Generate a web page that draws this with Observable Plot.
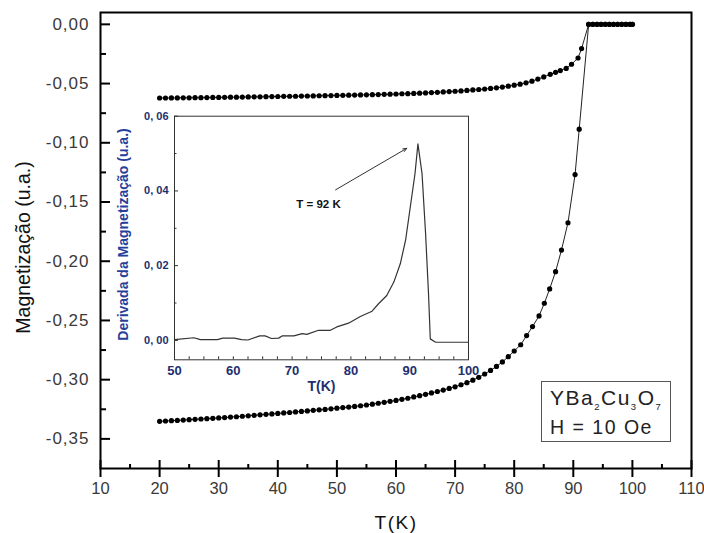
<!DOCTYPE html>
<html><head><meta charset="utf-8">
<script src="https://cdn.jsdelivr.net/npm/d3@7"></script>
<script src="https://cdn.jsdelivr.net/npm/@observablehq/plot@0.6"></script>
<style>
body{margin:0;background:#fff;}
#wrap{position:relative;width:704px;height:533px;font-family:Arial,"Liberation Sans",sans-serif;overflow:hidden;}
#main svg, #inset svg{display:block;}
#main g[aria-label="y-axis tick label"] text{letter-spacing:1px;}
#inset{position:absolute;left:100px;top:100px;}
#legend{position:absolute;left:541px;top:381px;width:130px;height:61px;border:1px solid #555;box-sizing:border-box;background:#fff;color:#222;}
#legend .l1{position:absolute;left:8px;top:5px;font-size:21px;line-height:21px;letter-spacing:1.5px;white-space:nowrap;}
#legend .l2{position:absolute;left:8px;top:35.5px;font-size:19.5px;line-height:19.5px;letter-spacing:1.5px;white-space:nowrap;}
#legend sub{font-size:9.5px;vertical-align:-5px;line-height:0;}
</style></head>
<body>
<div id="wrap">
  <div id="main"></div>
  <div id="inset"></div>
  <div id="legend"><div class="l1">YBa<sub>2</sub>Cu<sub>3</sub>O<sub>7</sub></div><div class="l2">H = 10 Oe</div></div>
</div>
<script>
// ---- Main curves: zero-field-cooled (lower) and field-cooled (upper) ----
const zfcT = [20,21,22,23,24,25,26,27,28,29,30,31,32,33,34,35,36,37,38,39,40,41,42,43,44,45,46,47,48,49,50,51,52,53,54,55,56,57,58,59,60,61,62,63,64,65,66,67,68,69,70,71,72,73,74,75,76,77,78,79,80,81.1,82.1,83.1,84.2,85.1,86.0,87.0,88.0,89.1,90.3,91.0,92.6,93.3,94.0,94.7,95.4,96.1,96.8,97.5,98.2,98.9,99.6,100.0];
const zfcM = [-0.3352,-0.3349,-0.3346,-0.3344,-0.3341,-0.3338,-0.3335,-0.3332,-0.3329,-0.3326,-0.3323,-0.3320,-0.3316,-0.3313,-0.3309,-0.3305,-0.3301,-0.3297,-0.3293,-0.3289,-0.3285,-0.3281,-0.3277,-0.3272,-0.3268,-0.3264,-0.3259,-0.3255,-0.3251,-0.3246,-0.3241,-0.3236,-0.3231,-0.3226,-0.3220,-0.3214,-0.3207,-0.3199,-0.3191,-0.3183,-0.3175,-0.3166,-0.3157,-0.3146,-0.3135,-0.3124,-0.3112,-0.3100,-0.3088,-0.3074,-0.3060,-0.3043,-0.3025,-0.3004,-0.2980,-0.2952,-0.2922,-0.2888,-0.2850,-0.2806,-0.2758,-0.2705,-0.2628,-0.2552,-0.2462,-0.2355,-0.2234,-0.2088,-0.1906,-0.1675,-0.1268,-0.0885,0,0,0,0,0,0,0,0,0,0,0,0];
const fcT = [20,21,22,23,24,25,26,27,28,29,30,31,32,33,34,35,36,37,38,39,40,41,42,43,44,45,46,47,48,49,50,51,52,53,54,55,56,57,58,59,60,61,62,63,64,65,66,67,68,69,70,71,72,73,74,75,76,77,78,79,80,81,82,83,84,85,86.1,87.0,87.8,88.8,89.7,90.8,91.4,92.6,93.3,94.0,94.7,95.4,96.1,96.8,97.5,98.2,98.9,99.6,100.0];
const fcM = [-0.0622,-0.0622,-0.0621,-0.0621,-0.0620,-0.0620,-0.0619,-0.0619,-0.0618,-0.0617,-0.0617,-0.0616,-0.0615,-0.0615,-0.0614,-0.0613,-0.0612,-0.0612,-0.0611,-0.0610,-0.0609,-0.0608,-0.0607,-0.0607,-0.0606,-0.0605,-0.0604,-0.0603,-0.0602,-0.0601,-0.0600,-0.0599,-0.0598,-0.0597,-0.0596,-0.0595,-0.0594,-0.0593,-0.0591,-0.0590,-0.0588,-0.0586,-0.0585,-0.0583,-0.0581,-0.0579,-0.0576,-0.0574,-0.0571,-0.0568,-0.0565,-0.0562,-0.0558,-0.0554,-0.0550,-0.0546,-0.0541,-0.0536,-0.0530,-0.0522,-0.0514,-0.0505,-0.0494,-0.0480,-0.0462,-0.0444,-0.0422,-0.0405,-0.0390,-0.0372,-0.0337,-0.0284,-0.0205,0,0,0,0,0,0,0,0,0,0,0,0];

// ---- Inset: derivative of magnetization ----
const dT = [50,53.3,54.4,57.3,58.2,60.2,61.4,62.5,64.5,65.4,66.5,67.7,68.3,70.3,71.7,72.5,74.5,76.5,77.6,79.6,81.6,83.6,84.7,86.1,87.3,88.4,89.3,90.1,90.9,91.4,92.1,92.7,93.2,93.5,94.4,100];
const dM = [0.0002,0.0007,0.0002,0.0002,0.0006,0.0006,0.0002,0.0001,0.0012,0.0012,0.0005,0.0006,0.0012,0.0012,0.0018,0.0016,0.0027,0.0027,0.0036,0.0046,0.0064,0.0078,0.0098,0.0120,0.0156,0.0205,0.0268,0.0357,0.0446,0.0526,0.0446,0.0286,0.0125,0.0004,-0.0005,-0.0005];

// ---- Ticks and labels ----
const xMajor = [10,20,30,40,50,60,70,80,90,100,110];
const xMinor = [15,25,35,45,55,65,75,85,95,105];
const yMajor = [0,-0.05,-0.10,-0.15,-0.20,-0.25,-0.30,-0.35];
const yMinor = [-0.025,-0.075,-0.125,-0.175,-0.225,-0.275,-0.325];
const insetXLabels = [50,60,70,80,90,100];
const insetXTicks = [52.5,55,57.5,60,62.5,65,67.5,70,72.5,75,77.5,80,82.5,85,87.5,90,92.5,95,97.5];
const insetYMajor = [0,0.02,0.04,0.06];
const insetYMinor = [0.01,0.03,0.05];
const annotationText = ["T = 92 K"];
const annotationPos = [74.5, 0.0363];
const arrowFrom = [77.4, 0.0403];
const arrowTo = [89.5, 0.0514];

const mainTitleX = "T(K)";
const mainTitleY = "Magnetização (u.a.)";
const insetTitleX = "T(K)";
const insetTitleY = "Derivada da Magnetização (u.a.)";

const zfc = zfcT.map((t, i) => ({T: t, M: zfcM[i]}));
const fc = fcT.map((t, i) => ({T: t, M: fcM[i]}));
const deriv = dT.map((t, i) => ({T: t, D: dM[i]}));

const FONT = 'Arial, "Liberation Sans", sans-serif';
const W = 704, H = 533, mL = 100, mR = 13, mT = 12, mB = 65;
const innerW = W - mL - mR, innerH = H - mT - mB;
const fmtMain = d => d.toFixed(2).replace(".", ",");

const main = Plot.plot({
  width: W, height: H,
  marginLeft: mL, marginRight: mR, marginTop: mT, marginBottom: mB,
  style: {fontFamily: FONT, background: "#fff", overflow: "visible"},
  x: {domain: [10, 110]},
  y: {domain: [-0.375, 0.01]},
  marks: [
    Plot.ruleX(xMajor, {x: d => d, stroke: "black", strokeWidth: 2, insetTop: innerH - 8, insetBottom: -9}),
    Plot.ruleX(xMinor, {x: d => d, stroke: "black", strokeWidth: 2, insetTop: innerH - 4}),
    Plot.ruleY(yMajor, {y: d => d, stroke: "black", strokeWidth: 2, insetRight: innerW - 10}),
    Plot.ruleY(yMinor, {y: d => d, stroke: "black", strokeWidth: 2, insetRight: innerW - 6}),
    Plot.axisX({ticks: xMajor, tickSize: 0, tickPadding: 14, tickFormat: d => String(d), fontSize: 16.5, color: "#3a3a3a", label: null}),
    Plot.axisY({ticks: yMajor, tickSize: 0, tickPadding: 11, tickFormat: fmtMain, fontSize: 17, color: "#3a3a3a", label: null}),
    Plot.frame({stroke: "black", strokeWidth: 2}),
    Plot.line(zfc, {x: "T", y: "M", stroke: "#222", strokeWidth: 1}),
    Plot.line(fc, {x: "T", y: "M", stroke: "#222", strokeWidth: 1}),
    Plot.dot(zfc, {x: "T", y: "M", r: 2.6, fill: "black", stroke: null}),
    Plot.dot(fc, {x: "T", y: "M", r: 2.6, fill: "black", stroke: null}),
    Plot.text([mainTitleX], {text: d => d, frameAnchor: "bottom", dy: 54, textAnchor: "middle", lineAnchor: "middle", fontSize: 19, fill: "#111"}),
    Plot.text([mainTitleY], {text: d => d, frameAnchor: "left", dx: -77, dy: 7, rotate: -90, textAnchor: "middle", lineAnchor: "middle", fontSize: 19.5, fill: "#111"})
  ]
});
document.getElementById("main").appendChild(main);
main.querySelectorAll("text").forEach(t => { if (t.textContent === mainTitleX) t.style.letterSpacing = "1.5px"; });

// ---- Inset ----
const iW = 380, iH = 300, imL = 74, imR = 12, imT = 15.7, imB = 40.7;
const iInnerW = iW - imL - imR, iInnerH = iH - imT - imB;
const INK = "#1e2f6e";
const fmtInset = d => d.toFixed(2).replace(".", ", ");

const inset = Plot.plot({
  width: iW, height: iH,
  marginLeft: imL, marginRight: imR, marginTop: imT, marginBottom: imB,
  style: {fontFamily: FONT, background: "transparent", overflow: "visible"},
  x: {domain: [50, 100]},
  y: {domain: [-0.0052, 0.06]},
  marks: [
    Plot.frame({fill: "white", stroke: "#333", strokeWidth: 1}),
    Plot.ruleX(insetXTicks, {x: d => d, stroke: "#333", strokeWidth: 1, insetTop: iInnerH - 3}),
    Plot.ruleY(insetYMajor, {y: d => d, stroke: "#333", strokeWidth: 1, insetRight: iInnerW - 4}),
    Plot.ruleY(insetYMinor, {y: d => d, stroke: "#333", strokeWidth: 1, insetRight: iInnerW - 2.5}),
    Plot.axisX({ticks: insetXLabels, tickSize: 0, tickPadding: 5.5, tickFormat: d => String(d), fontSize: 13, fontWeight: "bold", color: INK, label: null}),
    Plot.axisY({ticks: insetYMajor, tickSize: 0, tickPadding: 6, tickFormat: fmtInset, fontSize: 11, fontWeight: "bold", color: INK, label: null}),
    Plot.line(deriv, {x: "T", y: "D", stroke: "#333", strokeWidth: 1.2}),
    Plot.arrow([0], {x1: () => arrowFrom[0], y1: () => arrowFrom[1], x2: () => arrowTo[0], y2: () => arrowTo[1], stroke: "#333", strokeWidth: 1, headLength: 6, headAngle: 45}),
    Plot.text(annotationText, {text: d => d, x: () => annotationPos[0], y: () => annotationPos[1], fontSize: 11.5, fontWeight: "bold", fill: "#111"}),
    Plot.text([insetTitleX], {text: d => d, frameAnchor: "bottom", dy: 26.5, textAnchor: "middle", lineAnchor: "middle", fontSize: 14, fontWeight: "bold", fill: INK}),
    Plot.text([insetTitleY], {text: d => d, frameAnchor: "left", dx: -51, dy: -3.5, rotate: -90, textAnchor: "middle", lineAnchor: "middle", fontSize: 14, fontWeight: "bold", fill: "#26409a"})
  ]
});
document.getElementById("inset").appendChild(inset);
</script>
</body></html>
